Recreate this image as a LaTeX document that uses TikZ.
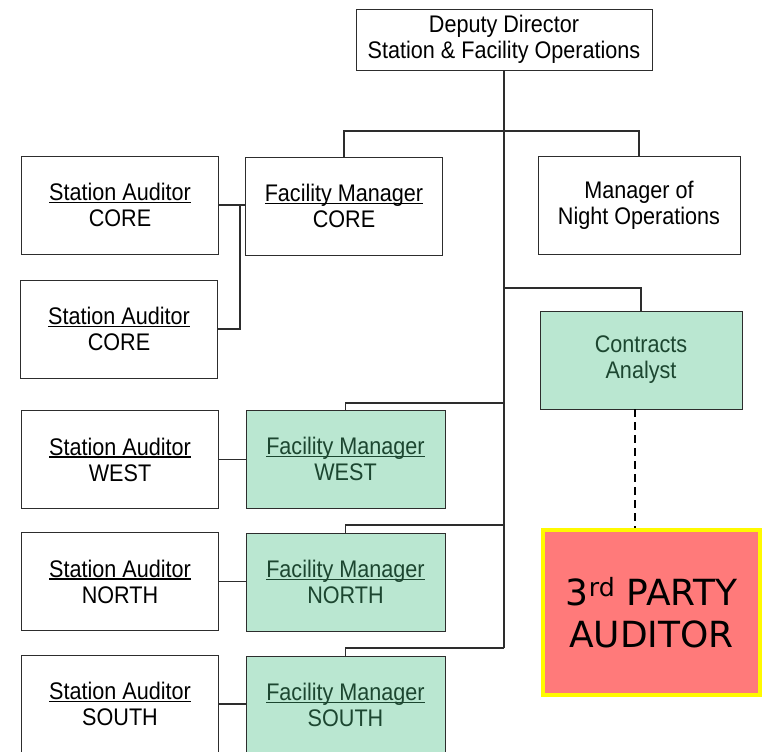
\documentclass[tikz,border=0pt]{standalone}
\usepackage{fontspec}
\setmainfont[FakeStretch=0.9]{Liberation Sans}
\newfontfamily\dejavu{DejaVu Sans}
\definecolor{boxgreen}{RGB}{186,231,209}
\definecolor{txtgreen}{RGB}{28,70,48}
\definecolor{salmon}{RGB}{255,122,122}
\definecolor{edge}{RGB}{45,45,45}
\definecolor{ybord}{RGB}{255,250,0}
\newcommand\ulx[1]{\setbox0\hbox{#1}\rlap{\rule[-2.5pt]{\wd0}{1.1pt}}\box0}
\begin{document}
\begin{tikzpicture}[x=1pt,y=-1pt,
  box/.style={draw=edge, line width=0.9pt, fill=white, minimum width=197pt, minimum height=98pt, align=center, inner sep=0pt, font=\fontsize{24}{26}\selectfont},
  gbox/.style={box, fill=boxgreen, text=txtgreen},
  conn/.style={draw=edge, line width=1.1pt}]
\fill[white] (0,0) rectangle (763,752);
\useasboundingbox (0,0) rectangle (763,752);

\node[box, minimum width=296pt, minimum height=61pt] (dep) at (504,39.5) {Deputy Director\\Station \& Facility Operations};
\node[box] (sa1) at (120,205) {\ulx{Station Auditor}\\CORE};
\node[box] (fmc) at (344,206) {\ulx{Facility Manager}\\CORE};
\node[box, minimum width=202pt] (mno) at (639,205) {Manager of\\Night Operations};
\node[box] (sa2) at (119,329) {\ulx{Station Auditor}\\CORE};
\node[gbox, minimum width=202pt] (ca) at (641,360) {Contracts\\Analyst};
\node[box] (saw) at (120,459.5) {\ulx{Station Auditor}\\WEST};
\node[gbox, minimum width=199pt] (fmw) at (345.5,459) {\ulx{Facility Manager}\\WEST};
\node[box] (san) at (120,581.5) {\ulx{Station Auditor}\\NORTH};
\node[gbox, minimum width=199pt] (fmn) at (345.5,582) {\ulx{Facility Manager}\\NORTH};
\node[box] (sas) at (120,704) {\ulx{Station Auditor}\\SOUTH};
\node[gbox, minimum width=199pt] (fms) at (345.5,705) {\ulx{Facility Manager}\\SOUTH};
\node[draw=ybord, line width=4pt, fill=salmon, minimum width=217pt, minimum height=165pt, inner sep=0pt, align=center, font=\dejavu\fontsize{36}{42}\selectfont] (tp) at (651.5,612.5) {3\textsuperscript{rd} PARTY\\AUDITOR};

\coordinate (tca) at (504,288);
\coordinate (tw) at (504,403);
\coordinate (tn) at (504,525);
\coordinate (ts) at (504,648);
\coordinate (ttop) at (504,131);
\coordinate (jc) at (240,0);
\coordinate (dx) at (635,0);

\draw[conn] (dep.south) -- (ts);
\draw[conn] (fmc.north) |- (ttop) -| (mno.north);
\draw[conn] (tca) -| (ca.north);
\draw[conn] (tw) -| (fmw.north);
\draw[conn] (tn) -| (fmn.north);
\draw[conn] (ts) -| (fms.north);
\draw[conn] (sa1.east) -- (sa1.east -| fmc.west);
\draw[conn] (sa2.east) -| (jc |- sa1.east);
\draw[conn] (saw.east) -- (saw.east -| fmw.west);
\draw[conn] (san.east) -- (san.east -| fmn.west);
\draw[conn] (sas.east) -- (sas.east -| fms.west);
\draw[draw=black, line width=2pt, dash pattern=on 8pt off 5pt] (ca.south -| dx) -- (tp.north -| dx);
\end{tikzpicture}
\end{document}
